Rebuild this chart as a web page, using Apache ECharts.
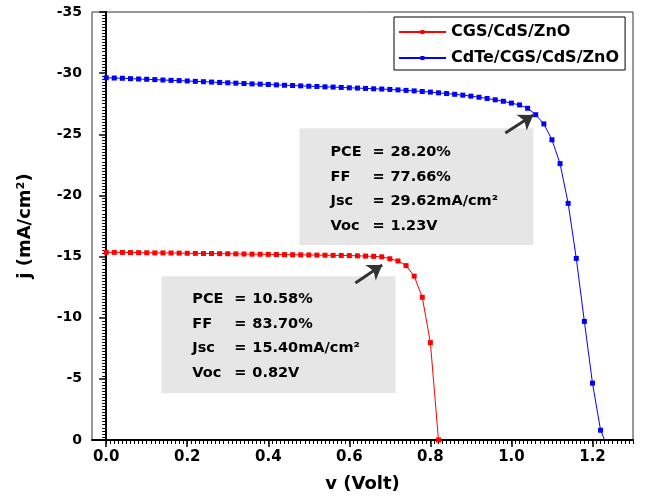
<!DOCTYPE html>
<html>
<head>
<meta charset="utf-8">
<script src="https://cdn.jsdelivr.net/npm/echarts@6/dist/echarts.min.js"></script>
<style>
  html, body { margin: 0; padding: 0; background: #fff; }
  #chart { width: 647px; height: 500px; }
</style>
</head>
<body>
<div id="chart"></div>
<script>
// voltage steps (V) and current density (mA/cm2)
var voltsCGS = [0, 0.02, 0.04, 0.06, 0.08, 0.1, 0.12, 0.14, 0.16, 0.18, 0.2, 0.22, 0.24, 0.26, 0.28, 0.3, 0.32, 0.34, 0.36, 0.38, 0.4, 0.42, 0.44, 0.46, 0.48, 0.5, 0.52, 0.54, 0.56, 0.58, 0.6, 0.62, 0.64, 0.66, 0.68, 0.7, 0.72, 0.74, 0.76, 0.78, 0.8, 0.82];
var jCGS = [-15.35, -15.34, -15.34, -15.33, -15.32, -15.31, -15.3, -15.3, -15.29, -15.28, -15.27, -15.26, -15.25, -15.25, -15.24, -15.23, -15.22, -15.21, -15.2, -15.19, -15.18, -15.17, -15.16, -15.15, -15.14, -15.13, -15.12, -15.11, -15.1, -15.09, -15.08, -15.06, -15.04, -15.02, -14.98, -14.82, -14.64, -14.26, -13.4, -11.67, -7.96, 0];

var voltsCdTe = [0, 0.02, 0.04, 0.06, 0.08, 0.1, 0.12, 0.14, 0.16, 0.18, 0.2, 0.22, 0.24, 0.26, 0.28, 0.3, 0.32, 0.34, 0.36, 0.38, 0.4, 0.42, 0.44, 0.46, 0.48, 0.5, 0.52, 0.54, 0.56, 0.58, 0.6, 0.62, 0.64, 0.66, 0.68, 0.7, 0.72, 0.74, 0.76, 0.78, 0.8, 0.82, 0.84, 0.86, 0.88, 0.9, 0.92, 0.94, 0.96, 0.98, 1.0, 1.02, 1.04, 1.06, 1.08, 1.1, 1.12, 1.14, 1.16, 1.18, 1.2, 1.22, 1.23];
var jCdTe = [-29.62, -29.6, -29.58, -29.55, -29.52, -29.5, -29.47, -29.44, -29.41, -29.39, -29.36, -29.33, -29.3, -29.27, -29.24, -29.21, -29.18, -29.15, -29.12, -29.1, -29.07, -29.04, -29.01, -28.99, -28.96, -28.93, -28.91, -28.88, -28.86, -28.83, -28.8, -28.78, -28.75, -28.72, -28.7, -28.67, -28.63, -28.59, -28.55, -28.5, -28.45, -28.39, -28.33, -28.27, -28.2, -28.12, -28.03, -27.93, -27.82, -27.7, -27.55, -27.4, -27.13, -26.6, -25.85, -24.55, -22.6, -19.35, -14.85, -9.7, -4.65, -0.8, 0];

var seriesNames = ["CGS/CdS/ZnO", "CdTe/CGS/CdS/ZnO"];
var xTickLabels = [0, 0.2, 0.4, 0.6, 0.8, 1.0, 1.2];

// performance parameters shown in the grey boxes
var statsCdTe = ["28.20%", "77.66%", "29.62mA/cm²", "1.23V"];
var statsCGS = ["10.58%", "83.70%", "15.40mA/cm²", "0.82V"];

var FONT = "DejaVu Sans";

var minorX = [];
for (var i = 0; i <= 130; i++) minorX.push(+(i * 0.01).toFixed(2));

function pairs(xs, ys) {
  return xs.map(function (x, i) { return [x, ys[i]]; });
}
function boxText(s) {
  return "{k|PCE}{e|=}{v|" + s[0] + "}\n{k|FF}{e|=}{v|" + s[1] + "}\n{k|Jsc}{e|=}{v|" + s[2] + "}\n{k|Voc}{e|=}{v|" + s[3] + "}";
}
var boxRich = {
  k: { width: 42, fontFamily: FONT, fontWeight: "bold", fontSize: 14.5, color: "#000", lineHeight: 24.5 },
  e: { width: 18, fontFamily: FONT, fontWeight: "bold", fontSize: 14.5, color: "#000", lineHeight: 24.5 },
  v: { fontFamily: FONT, fontWeight: "bold", fontSize: 14.5, color: "#000", lineHeight: 24.5 },
};

// the CdTe curve ends on the axis without a marker
var cdteData = pairs(voltsCdTe, jCdTe);
cdteData[cdteData.length - 1] = { value: cdteData[cdteData.length - 1], symbol: "none" };

var chart = echarts.init(document.getElementById("chart"));
var option = {
  backgroundColor: "#fff",
  animation: false,
  grid: {
    left: 92, right: 14, top: 12, bottom: 60,
    show: true, borderColor: "#333", borderWidth: 1,
  },
  legend: {
    data: seriesNames,
    orient: "vertical",
    left: 394, top: 17,
    padding: [7, 6, 4, 4],
    itemWidth: 47, itemHeight: 5, itemGap: 10,
    borderColor: "#000", borderWidth: 1,
    backgroundColor: "#fff",
    textStyle: { fontFamily: FONT, fontWeight: "bold", fontSize: 16, color: "#000" },
  },
  xAxis: [
    {
      type: "value", min: -0.035, max: 1.3,
      name: "v (Volt)", nameLocation: "middle", nameGap: 35,
      nameTextStyle: { fontFamily: FONT, fontWeight: "bold", fontSize: 18, color: "#000" },
      axisLine: { show: true, lineStyle: { color: "#000", width: 2 } },
      axisTick: { show: true, customValues: xTickLabels, length: 7, lineStyle: { color: "#000", width: 1.5 } },
      axisLabel: {
        customValues: xTickLabels, margin: 10,
        fontFamily: FONT, fontWeight: "bold", fontSize: 15, color: "#000",
        formatter: function (v) { return v.toFixed(1); },
      },
      splitLine: { show: false },
    },
    {
      type: "value", min: -0.035, max: 1.3, position: "bottom",
      axisLine: { show: false },
      axisTick: { show: true, customValues: minorX, length: 4, lineStyle: { color: "#000", width: 1 } },
      axisLabel: { show: false },
      splitLine: { show: false },
    },
  ],
  yAxis: {
    type: "value", min: -35, max: 0, interval: 5, inverse: true,
    name: "j (mA/cm²)", nameLocation: "middle", nameGap: 58,
    nameTextStyle: { fontFamily: FONT, fontWeight: "bold", fontSize: 18, color: "#000" },
    axisLine: { show: true, lineStyle: { color: "#000", width: 2 } },
    axisTick: { show: true, length: 7, lineStyle: { color: "#000", width: 1.5 } },
    minorTick: { show: true, splitNumber: 20, length: 4, lineStyle: { color: "#000", width: 1 } },
    axisLabel: { margin: 10, fontFamily: FONT, fontWeight: "bold", fontSize: 14, color: "#000" },
    splitLine: { show: false },
  },
  series: [
    {
      name: seriesNames[0], type: "line", xAxisIndex: 0,
      data: pairs(voltsCGS, jCGS),
      symbol: "rect", symbolSize: 5,
      itemStyle: { color: "#ff0000" },
      lineStyle: { color: "#ff0000", width: 1 },
      z: 5,
      markArea: {
        silent: true,
        itemStyle: { color: "#e6e6e6" },
        label: {
          show: true, position: "insideTopLeft", distance: 0,
          padding: [11, 0, 0, 31],
          formatter: boxText(statsCGS), rich: boxRich,
        },
        data: [[{ coord: [0.136, -13.4] }, { coord: [0.714, -3.85] }]],
      },
      markLine: {
        silent: true, symbol: ["none", "arrow"], symbolSize: 14,
        label: { show: false },
        lineStyle: { color: "#333", width: 3, type: "solid" },
        data: [[{ coord: [0.615, -12.84] }, { coord: [0.681, -14.31] }]],
      },
    },
    {
      name: seriesNames[1], type: "line", xAxisIndex: 0,
      data: cdteData,
      symbol: "rect", symbolSize: 5,
      itemStyle: { color: "#0000ff" },
      lineStyle: { color: "#0000ff", width: 1 },
      z: 5,
      markArea: {
        silent: true,
        itemStyle: { color: "#e6e6e6" },
        label: {
          show: true, position: "insideTopLeft", distance: 0,
          padding: [12, 0, 0, 31],
          formatter: boxText(statsCdTe), rich: boxRich,
        },
        data: [[{ coord: [0.477, -25.5] }, { coord: [1.054, -15.95] }]],
      },
      markLine: {
        silent: true, symbol: ["none", "arrow"], symbolSize: 14,
        label: { show: false },
        lineStyle: { color: "#333", width: 3, type: "solid" },
        data: [[{ coord: [0.985, -25.1] }, { coord: [1.054, -26.58] }]],
      },
    },
  ],
};
chart.setOption(option);
</script>
</body>
</html>
